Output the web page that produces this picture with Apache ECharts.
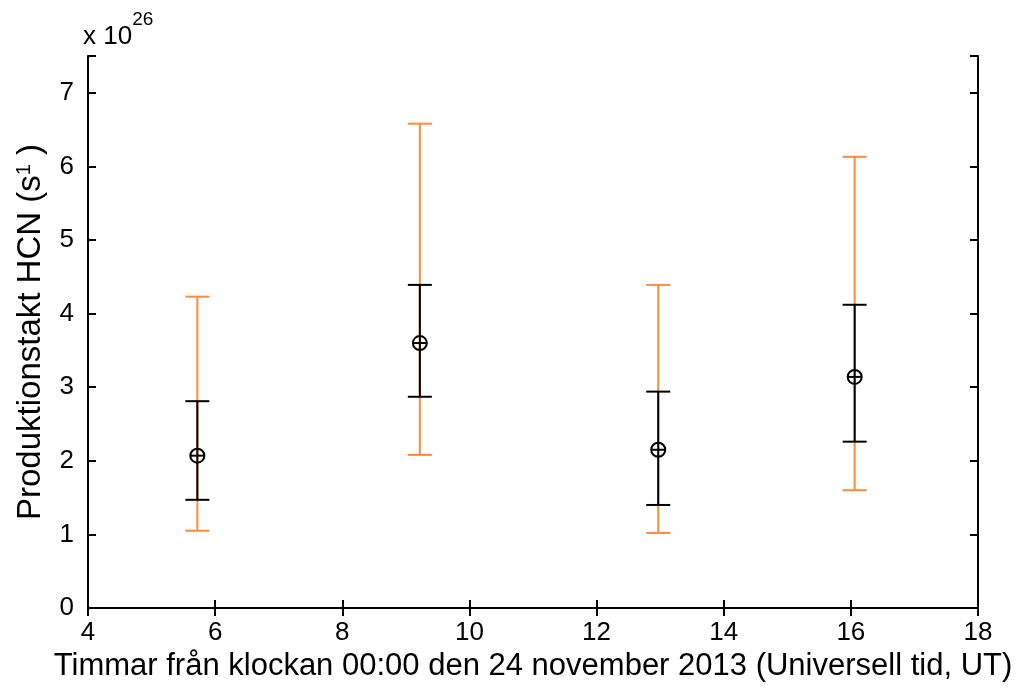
<!DOCTYPE html>
<html>
<head>
<meta charset="utf-8">
<script src="https://cdn.jsdelivr.net/npm/echarts@6/dist/echarts.min.js"></script>
<style>html,body{margin:0;padding:0;background:#fff}#c{width:1017px;height:690px}</style>
</head>
<body>
<div id="c"></div>
<script>
const hours = [5.72, 9.22, 12.97, 16.06];
const values = [2.07, 3.60, 2.15, 3.14];
const blackLow = [1.47, 2.87, 1.40, 2.26];
const blackHigh = [2.81, 4.39, 2.94, 4.12];
const orangeLow = [1.05, 2.08, 1.02, 1.60];
const orangeHigh = [4.23, 6.58, 4.39, 6.13];
const xTicks = [4, 6, 8, 10, 12, 14, 16, 18];
const yTicks = [0, 1, 2, 3, 4, 5, 6, 7];

const FONT = '"Liberation Sans", Arial, sans-serif';
const data = hours.map((h, i) => [h, values[i], blackLow[i], blackHigh[i], orangeLow[i], orangeHigh[i]]);

function errBar(api, x, lo, hi, color) {
  const p1 = api.coord([x, lo]);
  const p2 = api.coord([x, hi]);
  const cw = 12;
  const st = { stroke: color, lineWidth: 2 };
  return [
    { type: 'line', shape: { x1: p1[0], y1: p1[1], x2: p2[0], y2: p2[1] }, style: st },
    { type: 'line', shape: { x1: p1[0] - cw, y1: p1[1], x2: p1[0] + cw, y2: p1[1] }, style: st },
    { type: 'line', shape: { x1: p2[0] - cw, y1: p2[1], x2: p2[0] + cw, y2: p2[1] }, style: st }
  ];
}

const chart = echarts.init(document.getElementById('c'));
const axisCommon = {
  axisLine: { show: true, lineStyle: { color: '#000', width: 2 } },
  axisTick: { show: true, inside: true, length: 8, lineStyle: { color: '#000', width: 2 } },
  splitLine: { show: false }
};
chart.setOption({
  animation: false,
  backgroundColor: '#fff',
  grid: { left: 88, right: 39, top: 56, bottom: 82, containLabel: false },
  xAxis: [
    Object.assign({
      type: 'value', min: xTicks[0], max: xTicks[xTicks.length - 1], interval: 2, position: 'bottom',
      axisLabel: { color: '#000', fontSize: 26, fontFamily: FONT, margin: 12 },
      name: 'Timmar från klockan 00:00 den 24 november 2013 (Universell tid, UT)',
      nameLocation: 'middle', nameGap: 40,
      nameTextStyle: { color: '#000', fontSize: 31, fontFamily: FONT }
    }, axisCommon),
    Object.assign({
      type: 'value', min: xTicks[0], max: xTicks[xTicks.length - 1], interval: 2, position: 'top',
      axisLabel: { show: false }
    }, axisCommon)
  ],
  yAxis: [
    Object.assign({
      type: 'value', min: yTicks[0], max: 7.5, interval: 1, position: 'left',
      axisLabel: { color: '#000', fontSize: 26, fontFamily: FONT, margin: 14,
        formatter: v => (Number.isInteger(v) ? String(v) : '') },
      name: '{n|Produktionstakt HCN (s}{s|1}{n| )}',
      nameLocation: 'middle', nameGap: 40,
      nameTextStyle: { color: '#000', fontFamily: FONT,
        rich: { n: { fontSize: 33, fontFamily: FONT, color: '#000' },
                s: { fontSize: 20, fontFamily: FONT, color: '#000', verticalAlign: 'top', padding: [0, 0, 14, 0] } } }
    }, axisCommon),
    Object.assign({
      type: 'value', min: yTicks[0], max: 7.5, interval: 1, position: 'right',
      axisLabel: { show: false }
    }, axisCommon)
  ],
  graphic: [{
    type: 'text', left: 83, top: 10,
    style: {
      text: '{a|x 10}{b|26}',
      rich: {
        a: { fontSize: 26, fontFamily: FONT, fill: '#000', padding: [14, 0, 0, 0] },
        b: { fontSize: 19, fontFamily: FONT, fill: '#000', verticalAlign: 'top' }
      }
    }
  }],
  series: [{
    type: 'custom',
    xAxisIndex: 0, yAxisIndex: 0,
    data: data,
    encode: { x: 0, y: [1, 2, 3, 4, 5] },
    renderItem: function (params, api) {
      const x = api.value(0);
      const c = api.coord([x, api.value(1)]);
      const r = 7;
      const children = []
        .concat(errBar(api, x, api.value(4), api.value(5), '#ff8a3d'))
        .concat(errBar(api, x, api.value(2), api.value(3), '#000'));
      children.push({ type: 'circle', shape: { cx: c[0], cy: c[1], r: r }, style: { fill: 'none', stroke: '#000', lineWidth: 2 } });
      children.push({ type: 'line', shape: { x1: c[0] - r, y1: c[1], x2: c[0] + r, y2: c[1] }, style: { stroke: '#000', lineWidth: 2 } });
      return { type: 'group', children: children };
    }
  }]
});
</script>
</body>
</html>
